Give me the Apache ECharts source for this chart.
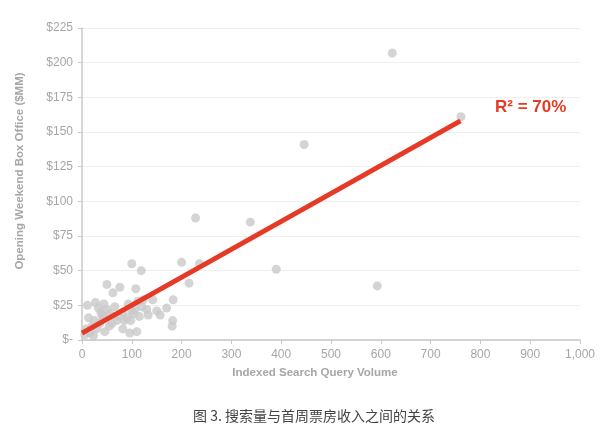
<!DOCTYPE html>
<html>
<head>
<meta charset="utf-8">
<script src="https://cdn.jsdelivr.net/npm/echarts@6/dist/echarts.min.js"></script>
<style>
  html, body { margin: 0; padding: 0; background: #fff; }
  #chart { width: 600px; height: 429px; }
</style>
</head>
<body>
<div id="chart"></div>
<script>
// 搜索量 vs 首周票房
var xTicks = [0, 100, 200, 300, 400, 500, 600, 700, 800, 900, 1000];
var yTicks = [0, 25, 50, 75, 100, 125, 150, 175, 200, 225];

// [搜索量, 票房 $MM]
var movies = [
    [228, 88], [338, 85], [390, 51], [200, 56], [236, 55], [215, 41],
    [183, 29], [182, 14], [181, 10], [170, 23], [157, 18], [150, 21],
    [142, 29], [130, 22], [133, 18], [119, 50], [100, 55], [108, 37],
    [76, 38], [50, 40], [62, 34], [11, 25], [27, 27], [44, 26],
    [13, 16], [96, 5], [110, 6], [82, 8], [93, 26], [115, 17],
    [103, 19], [90, 16], [73, 17], [60, 12], [46, 6], [30, 8],
    [36, 12], [16, 5], [6, 4], [23, 3], [50, 22], [56, 19],
    [33, 23], [43, 16], [66, 24], [120, 24], [123, 29], [100, 21],
    [106, 22], [82, 20], [70, 14], [20, 10], [40, 18], [25, 14],
    [8, 8], [55, 10], [85, 14], [112, 28], [98, 14], [38, 20],
    [623, 207], [761, 161], [446, 141], [593, 39]
];

// 趋势线两端
var fitLine = [[0, 5], [760, 158]];
var r2Text = 'R² = 70%';

var myChart = echarts.init(document.getElementById('chart'));

var grey = '#a6a6a6';

option = {
    animation: false,
    grid: {
        left: 82,
        right: 20,
        top: 28,
        bottom: 89
    },
    xAxis: {
        type: 'value',
        min: 0,
        max: 1000,
        interval: 100,
        name: 'Indexed Search Query Volume',
        nameLocation: 'middle',
        nameGap: 27,
        nameTextStyle: {
            color: grey,
            fontSize: 11.5,
            fontWeight: 'bold',
            fontFamily: 'Arial, Liberation Sans',
            padding: [0, 32, 0, 0]
        },
        axisLine: { lineStyle: { color: '#c8c8c8', width: 1.5 } },
        axisTick: { show: true, length: 4, lineStyle: { color: '#c8c8c8' } },
        axisLabel: {
            color: grey,
            fontSize: 12,
            margin: 9,
            fontFamily: 'Arial, Liberation Sans',
            formatter: function (v) {
                return v >= 1000 ? '1,000' : String(v);
            }
        },
        splitLine: { show: false }
    },
    yAxis: {
        type: 'value',
        min: 0,
        max: 225,
        interval: 25,
        name: 'Opening Weekend Box Office ($MM)',
        nameLocation: 'middle',
        nameGap: 56,
        nameTextStyle: {
            color: grey,
            fontSize: 11.5,
            fontWeight: 'bold',
            fontFamily: 'Arial, Liberation Sans',
            padding: [0, 0, 0, 26]
        },
        axisLine: { show: true, lineStyle: { color: '#c8c8c8', width: 1.5 } },
        axisTick: { show: true, length: 4, lineStyle: { color: '#c8c8c8' } },
        axisLabel: {
            color: grey,
            fontSize: 12,
            margin: 9,
            fontFamily: 'Arial, Liberation Sans',
            formatter: function (v) {
                return v === 0 ? '$-' : '$' + v;
            }
        },
        splitLine: { show: true, lineStyle: { color: '#efefef', width: 1 } }
    },
    series: [
        {
            name: 'movies',
            type: 'scatter',
            data: movies,
            symbolSize: 9,
            itemStyle: { color: '#c9c9c9' },
            z: 2
        },
        {
            name: 'fit',
            type: 'line',
            data: fitLine,
            symbol: 'none',
            lineStyle: { color: '#e63a26', width: 5 },
            z: 3
        }
    ],
    graphic: [
        {
            type: 'text',
            left: 495,
            top: 99,
            style: {
                text: r2Text,
                fill: '#e63a26',
                fontSize: 17,
                fontWeight: 'bold',
                fontFamily: 'Arial, Liberation Sans'
            }
        },
        {
            type: 'text',
            left: 193,
            top: 409,
            style: {
                text: '图 3. 搜索量与首周票房收入之间的关系',
                fill: '#444',
                fontSize: 14,
                fontFamily: 'Noto Sans CJK SC'
            }
        }
    ]
};

myChart.setOption(option);
window.addEventListener("resize", function () {
    myChart.resize();
});
</script>
</body>
</html>
